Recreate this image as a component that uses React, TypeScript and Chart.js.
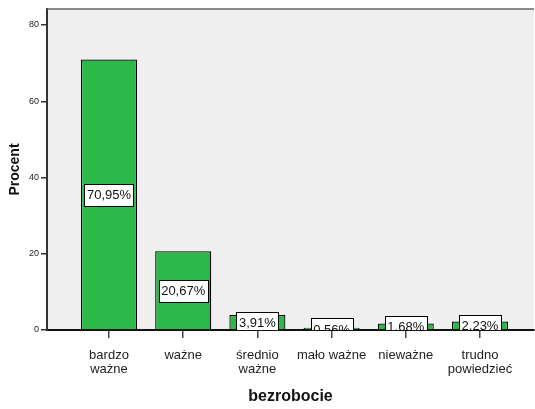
import React, { useEffect, useRef } from "react";
import { Chart, registerables } from "chart.js";

Chart.register(...registerables);

const categories: string[][] = [
  ["bardzo", "ważne"],
  ["ważne"],
  ["średnio", "ważne"],
  ["mało ważne"],
  ["nieważne"],
  ["trudno", "powiedzieć"],
];
const percents: number[] = [70.95, 20.67, 3.91, 0.56, 1.68, 2.23];
const yTicks: number[] = [0, 20, 40, 60, 80];
const yTitle = "Procent";
const xTitle = "bezrobocie";

const FONT = "'Liberation Sans', Arial, Helvetica, sans-serif";

const plotDecor = {
  id: "plotDecor",
  beforeDraw(chart: any) {
    const { ctx, chartArea: a } = chart;
    ctx.save();
    ctx.fillStyle = "#efefef";
    ctx.fillRect(a.left, a.top, a.right - a.left, a.bottom - a.top);
    ctx.restore();
  },
  afterDraw(chart: any) {
    const { ctx, chartArea: a } = chart;
    ctx.save();
    ctx.strokeStyle = "#666666";
    ctx.lineWidth = 1.5;
    ctx.beginPath();
    ctx.moveTo(a.left, a.top);
    ctx.lineTo(a.right, a.top);
    ctx.stroke();
    ctx.restore();
  },
};

const barLabels = {
  id: "barLabels",
  afterDatasetsDraw(chart: any) {
    const { ctx, chartArea: a } = chart;
    const meta = chart.getDatasetMeta(0);
    const yScale = chart.scales.y;
    ctx.save();
    ctx.beginPath();
    ctx.rect(a.left, a.top, a.right - a.left, a.bottom - a.top);
    ctx.clip();
    ctx.font = `13px ${FONT}`;
    ctx.textAlign = "center";
    ctx.textBaseline = "middle";
    meta.data.forEach((bar: any, i: number) => {
      const v = percents[i];
      const txt = v.toFixed(2).replace(".", ",") + "%";
      const cy = yScale.getPixelForValue(v / 2);
      const w = ctx.measureText(txt).width + 5;
      const h = 22;
      const x0 = Math.round(bar.x - w / 2) + 0.5;
      const y0 = Math.round(cy - h / 2) + 0.5;
      ctx.fillStyle = "#ffffff";
      ctx.fillRect(x0, y0, Math.round(w), h);
      ctx.strokeStyle = "#000000";
      ctx.lineWidth = 1;
      ctx.strokeRect(x0, y0, Math.round(w), h);
      ctx.fillStyle = "#111111";
      ctx.fillText(txt, bar.x, cy + 1);
    });
    ctx.restore();
  },
};

export default function App() {
  const ref = useRef<HTMLCanvasElement>(null);
  useEffect(() => {
    if (!ref.current) return;
    const chart = new Chart(ref.current, {
      type: "bar",
      data: {
        datasets: [
          {
            data: percents.map((v, i) => ({ x: i, y: v })),
            backgroundColor: "#2db84a",
            borderColor: "#000000",
            borderWidth: 1.2,
            barPercentage: 0.755,
            categoryPercentage: 1,
          },
        ],
      },
      options: {
        animation: false,
        responsive: false,
        maintainAspectRatio: false,
        layout: { padding: { top: 9, right: 1, left: 0, bottom: 0 } },
        plugins: { legend: { display: false }, tooltip: { enabled: false } },
        scales: {
          x: {
            type: "linear",
            offset: false,
            min: -0.8356,
            max: 5.728,
            afterBuildTicks: (s: any) => {
              s.ticks = categories.map((_, i) => ({ value: i }));
            },
            afterFit: (s: any) => {
              s.height = 79;
            },
            grid: {
              display: true,
              offset: false,
              drawOnChartArea: false,
              drawTicks: true,
              tickLength: 8,
              lineWidth: 1.5,
              color: "#444444",
            },
            border: { display: true, color: "#111111", width: 2 },
            ticks: {
              autoSkip: false,
              maxRotation: 0,
              padding: 10,
              color: "#222222",
              font: { family: FONT, size: 13, lineHeight: "14px" },
              callback: (v: any) => categories[Math.round(Number(v))] ?? "",
            },
            title: {
              display: true,
              text: xTitle,
              color: "#111111",
              font: { family: FONT, size: 16, weight: "bold" },
              padding: { top: 0, bottom: 3 },
            },
          },
          y: {
            min: 0,
            max: 84.2,
            afterBuildTicks: (s: any) => {
              s.ticks = yTicks.map((v) => ({ value: v }));
            },
            afterFit: (s: any) => {
              s.width = 47;
            },
            grid: {
              display: true,
              drawOnChartArea: false,
              drawTicks: true,
              tickLength: 6,
              lineWidth: 1.5,
              color: "#333333",
            },
            border: { display: true, color: "#333333", width: 2 },
            ticks: {
              padding: 2,
              color: "#222222",
              font: { family: FONT, size: 9 },
            },
            title: {
              display: true,
              text: yTitle,
              color: "#111111",
              font: { family: FONT, size: 14, weight: "bold" },
              padding: { top: 7, bottom: 0 },
            },
          },
        },
      },
      plugins: [plotDecor, barLabels],
    } as any);
    return () => chart.destroy();
  }, []);
  return (
    <div style={{ position: "fixed", left: 0, top: 0, width: 535, height: 409, background: "#fff" }}>
      <canvas ref={ref} width={535} height={409} style={{ width: 535, height: 409, display: "block" }} />
    </div>
  );
}
